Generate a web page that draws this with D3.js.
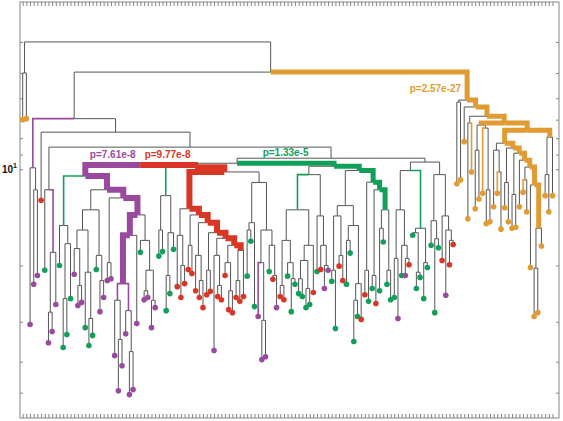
<!DOCTYPE html>
<html><head><meta charset="utf-8">
<script src="https://cdn.jsdelivr.net/npm/d3@7/dist/d3.min.js"></script>
<style>html,body{margin:0;padding:0;background:#fff;}svg{display:block;}</style>
</head><body>
<svg id="chart" width="563" height="421"></svg>
<script>
// ---------------- data ----------------
// class of each leaf, left to right (o = orange, p = purple, r = red, g = green)
const leafClass = ("ooppprgppp" + "ggggpppggg" + "gppppppppp" + "ppgppppggg" + "ggrrrrrrrr" +
  "rrprrrrrrr" + "rgggpppgrp" + "rrgggggggr" + "grppggrrgg" + "ggrrggrggg" +
  "ggpgprgggg" + "ggggrprr" + "ooooooooo" + "ooooooooo" + "ooooooooo").split("");
// value (height on the log axis) at each leaf dot
const leafValue = [
  7.0, 6.95, 30.6, 22.9, 21.5, 12.5, 20.7, 34.9, 32.2, 26.5,
  20.0, 36.1, 32.9, 25.4, 21.3, 26.7, 26.1, 31.3, 35.6, 33.1,
  20.6, 27.9, 25.2, 22.3, 22.0, 38.3, 49.3, 41.2, 32.7, 50.7,
  48.9, 30.4, 18.2, 25.6, 25.2, 31.3, 27.1, 18.7, 18.1, 27.7,
  24.5, 17.8, 23.3, 25.2, 22.8, 20.6, 21.2, 24.0, 25.2, 27.1,
  24.7, 24.1, 36.9, 25.0, 25.6, 21.5, 27.5, 28.1, 25.2, 25.9,
  25.0, 21.6, 16.8, 26.9, 28.9, 39.4, 38.6, 20.9, 22.1, 27.1,
  25.0, 25.6, 21.6, 27.9, 22.9, 24.5, 25.0, 27.1, 26.5, 24.3,
  20.9, 20.6, 23.6, 20.7, 22.4, 31.5, 20.1, 22.3, 22.9, 18.3,
  34.6, 28.9, 29.5, 24.7, 25.9, 23.6, 26.3, 24.0, 16.9, 22.9,
  25.6, 25.2, 29.3, 21.5, 21.5, 19.9, 16.1, 23.6, 21.8, 25.4,
  20.3, 17.3, 28.1, 17.6, 19.3, 24.8, 19.9, 17.2, 11.1, 10.8,
  8.2, 14.3, 10.2, 13.3, 12.4, 11.9, 14.8, 14.6, 13.1, 11.9,
  15.4, 13.2, 14.6, 15.3, 15.2, 13.1, 11.8, 13.6, 20.3, 28.9,
  28.1, 17.4, 12.1, 13.6, 12.1
];
// clades: (left,right)height[:edgeStyle]  leaf = index[:edgeStyle]
// edge style: lower case = thin coloured, upper case = thick coloured
const cladeLeftPair = "(1,2)5";
const cladeP = "(3,(4,5)11.6)9.9:p";
const cladeE = "(7,((8,9)28,10)18.2:p)11.6";
const cladeN11 = "(11,((12,13)25.4,14)17.1)15:g";
const cladeS1 = "(((15,(16,17)23.1)17.7,(18,(19,20)29.3)21)15.5,(21,(22,23)22.3)18.6)13.4";
const cladeT4 = "((26,(27,28)34.1)25.7:p,(29,(30,31)37.2)27.7:p)22.8:P";
const cladeS3 = "(33,((34,35)24,(36,37)25.7)20.7)16.7";
const cladePurple = `(${cladeN11},(${cladeS1},((24,25)19.6,((${cladeT4},32)16.1:P,${cladeS3})13.9:P)12.3:P)11.6:P)10.5:P`;
const cladeGg = "((38,39)15.5,((40,41)21.5,42)15.8)12.1:g";
const cladeRedTail = "((56,(57,58)24)19.6,((59,60)22.3,61)17.95:R)17.3:R";
const cladeRed = `((43,(44,45)20)16.1,((46,47)17.3,((48,(49,50)22.3)18.6,((51,52)20.7,((53,(54,55)23.1)18.6,${cladeRedTail})16.45:R)15.8:R)14.7:R)13.9:R)13.3:R`;
const cladeW2 = "(((62,63)15.5,64)14.7,((65:p,(66,67)29.7)19.6,(68,(69,70)21.5)17.3)15.5)11";
const cladeG = `(${cladePurple},(${cladeGg},(${cladeRed},${cladeW2})10.2:R)9.86:R)9.71`;
const cladeGRLa = "(((71,72)23.1,(73,(74,75)22)19.6)16.7,(((76,77)22,(78,79)23.6)19.3,80)17.3)13.4:g";
const cladeGRLb = "(81,(82,(83,84)20)17.3)14";
const cladeGRR1 = "(((85,86)20.7,(87,88)18.6)14,((89,90)16.7,((91,92)25.7,93)22.8)15)13";
const cladeGreen = `((${cladeGRLa},${cladeGRLb})10.4,(${cladeGRR1},((94,95)20.7,((96,97)21.5,((98,99)15.3,(100,101)20.7)13.4:G)11.6:G)10.98:G)10.1:G)9.79:G`;
const cladeF2L = "(((102,103)19,(104,(105,106)19)17.3)13.4,((107,(108,109)21)15.8,(110,111)19.6)15.3:g)10.1";
const cladeF2R = "((112,(113,114)16.5)14.5,(115,(116,(117,118)16.7)15.5)14)10.4";
const cladeF2 = `(${cladeF2L},${cladeF2R})9.5`;
const orangeTail = "((140,141)20.4,142)15.3:O";
const orangeOm = `((129,(130:o,131)10.2)8.72,((132,133)11,((134,135)12,(136,((137:o,138)10.8,(139,${orangeTail})11.2:O)9.85:O)9.37:O)8.91:O)8.59:O)8.29:O`;
const cladeOrange = `((119,120)6.17,(121,((122,123:o)7.17,(((124,125)8.72,(126:o,(127,128)11.6)7.44)7.28:O,(${orangeOm},((143,144)10.4,145)7.94:O)7.55:O)7.17:O)6.83:O)6.39:O)6.08:O`;
const treeShape = `(${cladeLeftPair},((${cladeP},(6,(${cladeE},((${cladeG},${cladeGreen})9.58,${cladeF2})9.24)8.53)7.66)6.95,${cladeOrange})4.97)4`;

const pLabelText = ["p=2.57e-27", "p=7.61e-8", "p=9.77e-8", "p=1.33e-5"];
const pLabelClass = ["o", "p", "r", "g"];
const yTickValues = [4, 5, 6, 7, 8, 9, 10, 20, 30, 40, 50];
const yLabelValue = 10;

// ---------------- drawing ----------------
const colors = {o: "#E09C32", p: "#9A4A9E", r: "#DA3626", g: "#10A05A"};
const thickWidth = {o: 5, p: 6, r: 6, g: 5};
const frame = {l: 20, r: 559, t: 2, b: 418};
const svg = d3.select("#chart");

const y = d3.scaleLog().domain([3, 60]).range([frame.t, frame.b]);
const x = d3.scaleLinear().domain([1, leafValue.length]).range([22.7, 552.5]);

function parseTree(str) {
  const s = str.replace(/\s+/g, "");
  let i = 0;
  const num = () => { const j = i; while (i < s.length && /[0-9.]/.test(s[i])) i++; return parseFloat(s.slice(j, i)); };
  const sty = () => { if (s[i] === ":") { i++; return s[i++]; } return null; };
  function node() {
    if (s[i] === "(") {
      i++; const a = node(); i++; const b = node(); i++;
      const v = num(), st = sty();
      return {children: [a, b], value: v, style: st};
    }
    const id = num(), st = sty();
    return {id: id, value: leafValue[id - 1], cls: leafClass[id - 1], style: st};
  }
  return node();
}

const root = d3.hierarchy(parseTree(treeShape), d => d.children);
root.eachAfter(n => { n.px = n.children ? d3.mean(n.children, c => c.px) : x(n.data.id); });

const edges = root.descendants().filter(n => n.parent);
const pathOf = n => `M${n.px},${y(n.data.value)}V${y(n.parent.data.value)}H${n.parent.px}`;

// frame + ticks
const axisCol = "#858585";
svg.append("rect").attr("x", frame.l).attr("y", frame.t)
  .attr("width", frame.r - frame.l).attr("height", frame.b - frame.t)
  .attr("fill", "none").attr("stroke", axisCol).attr("stroke-width", 1);

function styleAxis(g) {
  g.select(".domain").remove();
  g.selectAll(".tick line").attr("stroke", axisCol);
}
const leafTicks = d3.range(1, leafValue.length + 1);
svg.append("g").attr("transform", `translate(0,${frame.t})`)
  .call(d3.axisBottom(x).tickValues(leafTicks).tickSize(4).tickFormat("")).call(styleAxis);
svg.append("g").attr("transform", `translate(0,${frame.b})`)
  .call(d3.axisTop(x).tickValues(leafTicks).tickSize(4).tickFormat("")).call(styleAxis);
svg.append("g").attr("transform", `translate(${frame.l},0)`)
  .call(d3.axisRight(y).tickValues(yTickValues).tickSize(3).tickFormat("")).call(styleAxis);
svg.append("g").attr("transform", `translate(${frame.r},0)`)
  .call(d3.axisLeft(y).tickValues(yTickValues).tickSize(3).tickFormat("")).call(styleAxis);

const yl = svg.append("text").attr("x", 17).attr("y", y(yLabelValue) + 4)
  .attr("text-anchor", "end").attr("font-family", "Liberation Sans, Arial, sans-serif")
  .attr("font-weight", "bold").attr("font-size", 10).attr("fill", "#111");
yl.append("tspan").text("10");
yl.append("tspan").attr("font-size", 7).attr("dy", -5).text("1");

// tree lines
const gray = edges.filter(n => !n.data.style);
const thin = edges.filter(n => n.data.style && n.data.style === n.data.style.toLowerCase());
const thick = edges.filter(n => n.data.style && n.data.style !== n.data.style.toLowerCase());

svg.append("g").selectAll("path").data(gray).join("path")
  .attr("d", pathOf).attr("fill", "none").attr("stroke", "#555").attr("stroke-width", 1);
svg.append("g").selectAll("path").data(thin).join("path")
  .attr("d", pathOf).attr("fill", "none").attr("stroke", n => colors[n.data.style]).attr("stroke-width", 1.6);
svg.append("g").selectAll("path").data(thick).join("path")
  .attr("d", pathOf).attr("fill", "none").attr("stroke", n => colors[n.data.style.toLowerCase()])
  .attr("stroke-width", n => thickWidth[n.data.style.toLowerCase()])
  .attr("stroke-linejoin", "miter").attr("stroke-linecap", "butt");

// leaf dots
svg.append("g").selectAll("circle").data(root.leaves()).join("circle")
  .attr("cx", n => n.px).attr("cy", n => y(n.data.value)).attr("r", 2.8)
  .attr("fill", n => colors[n.data.cls]);

// p-value labels at the start of each thick path
pLabelClass.forEach((c, k) => {
  const start = thick.filter(n => n.data.style === c.toUpperCase())
    .sort((a, b) => a.depth - b.depth)[0];
  if (!start) return;
  const t = svg.append("text").attr("font-family", "Liberation Sans, Arial, sans-serif")
    .attr("font-weight", "bold").attr("font-size", 10).attr("fill", colors[c]).text(pLabelText[k]);
  if (c === "o") {
    t.attr("text-anchor", "end").attr("x", start.px - 6).attr("y", y(start.data.value) - 8);
  } else {
    t.attr("text-anchor", "middle").attr("x", (start.px + start.parent.px) / 2)
      .attr("y", y(start.parent.data.value) - 7);
  }
});
</script>
</body></html>
